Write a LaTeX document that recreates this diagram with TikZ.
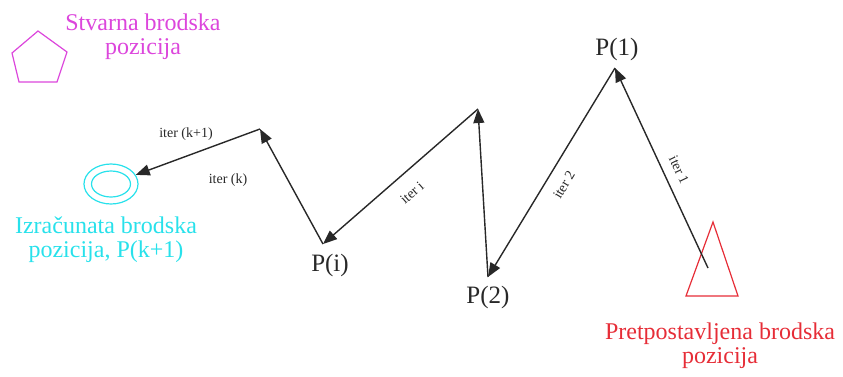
\documentclass[tikz,border=0pt]{standalone}
\usepackage{fontspec}
\setmainfont{Liberation Serif}
\usetikzlibrary{arrows.meta,shapes.geometric}
\definecolor{magc}{RGB}{220,70,220}
\definecolor{cyanc}{RGB}{40,225,235}
\definecolor{redc}{RGB}{230,45,55}
\definecolor{linec}{RGB}{40,40,40}
\tikzset{
  conn/.style={draw=linec, line width=0.7pt, -{Triangle[length=7pt,width=5.5pt]}},
  bigtxt/.style={font=\fontsize{12}{12.2}\selectfont, align=center, inner sep=0pt},
  ptxt/.style={font=\fontsize{12.5}{13}\selectfont, inner sep=0pt, text=linec},
  itertxt/.style={font=\fontsize{7}{8}\selectfont, inner sep=0pt, text=linec},
}
\begin{document}
\begin{tikzpicture}[x=0.5pt,y=-0.5pt]
\useasboundingbox (0,0) rectangle (843,376);
% pentagon (actual position)
\draw[magc, line width=0.6pt] (38,31) -- (67,52) -- (57,82) -- (19,82) -- (12,53) -- cycle;
\node[bigtxt, text=magc] (stv) at (143,37) {Stvarna brodska\\pozicija};
% computed position
\node[ellipse, draw=cyanc, line width=0.6pt, minimum width=27pt, minimum height=20pt, inner sep=0pt] (e) at (111,184) {};
\node[ellipse, draw=cyanc, line width=0.6pt, minimum width=19.5pt, minimum height=13pt, inner sep=0pt] (ei) at (111,184) {};
\node[bigtxt, text=cyanc] (izr) at (106,240) {Izračunata brodska\\pozicija, P(k+1)};
% assumed position
\draw[redc, line width=0.6pt] (713,222) -- (738,296) -- (686,296) -- cycle;
\node[bigtxt, text=redc] (pre) at (720,346) {Pretpostavljena brodska\\pozicija};
% path points
\coordinate (s) at (708,268);
\coordinate (p1) at (615,68);
\coordinate (p2) at (488,277);
\coordinate (t2) at (478,109);
\coordinate (pi) at (323,244);
\coordinate (t3) at (260,129);
\draw[conn] (s) -- (p1);
\draw[conn] (p1) -- (p2);
\draw[conn] (p2) -- (t2);
\draw[conn] (t2) -- (pi);
\draw[conn] (pi) -- (t3);
\draw[conn] (t3) -- (e);
% point labels
\node[ptxt] (lp1) at (617,49) {P(1)};
\node[ptxt] (lp2) at (488,297) {P(2)};
\node[ptxt] (lpi) at (330,265) {P(i)};
% iteration labels
\node[itertxt] (i1) at (679,170) [rotate=-64.5] {iter 1};
\node[itertxt] (i2) at (564,185) [rotate=59] {iter 2};
\node[itertxt] (ii) at (412,193) [rotate=41] {iter i};
\node[itertxt] (ik) at (228,180) {iter (k)};
\node[itertxt] (ik1) at (186,134) {iter (k+1)};
\end{tikzpicture}
\end{document}
